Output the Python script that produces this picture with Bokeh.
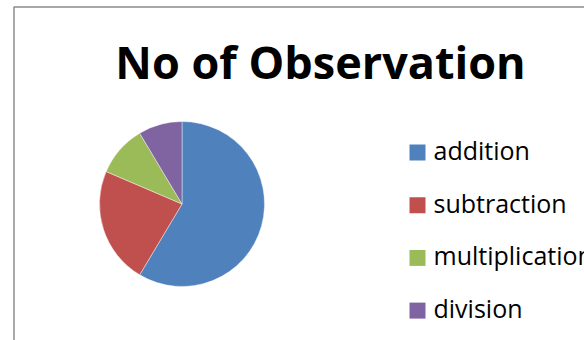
import numpy as np
from bokeh.plotting import figure
from bokeh.models import Range1d, ColumnDataSource
from bokeh.core.properties import value
from bokeh.embed import file_html
from bokeh.resources import INLINE

# ---- data ----
categories = ["addition", "subtraction", "multiplication", "division"]
counts = [41, 16, 7, 6]
colors = ["#4F81BD", "#C0504D", "#9BBB59", "#8064A2"]
title_text = "No of Observation"

W, H = 584, 340
p = figure(width=W, height=H, output_backend="svg", toolbar_location=None,
           x_range=Range1d(0, W), y_range=Range1d(0, H), min_border=0)
p.axis.visible = False
p.grid.visible = False
p.outline_line_color = None
p.background_fill_color = "white"
p.border_fill_color = "white"

# chart frame (gray border, clipped by the window)
p.quad(left=[13.5], right=[W + 20], top=[H - 6.5], bottom=[-20],
       fill_color=None, line_color="#8c8c8c", line_width=1.5)

# pie
vals = np.array(counts, dtype=float)
frac = vals / vals.sum()
cum = np.concatenate([[0], np.cumsum(frac)])
start = np.pi / 2 - cum[:-1] * 2 * np.pi
end = np.pi / 2 - cum[1:] * 2 * np.pi
cx, cy, r = 181.5, H - 203.5, 82.5
src = ColumnDataSource(dict(start=start, end=end, color=colors, cat=categories))
p.wedge(x=cx, y=cy, radius=r, start_angle="start", end_angle="end",
        direction="clock", fill_color="color", line_color="white",
        line_width=0.6, line_alpha=0.7, source=src)

# title
p.text(x=[320], y=[H - 61], text=[title_text], text_align="center",
       text_baseline="alphabetic", text_font=value("Open Sans"),
       text_font_style="bold", text_font_size="45px", text_color="black")

# legend (manual)
idx = np.arange(len(categories))
ly = H - (152 + idx * 52.7)
p.rect(x=417, y=ly, width=16, height=16, fill_color=colors, line_color=None)
p.text(x=433, y=ly + 2.5, text=categories, text_align="left", text_baseline="middle",
       text_font=value("Open Sans"), text_font_size="25px", text_color="black")

open("out.html", "w").write(file_html(p, INLINE))
